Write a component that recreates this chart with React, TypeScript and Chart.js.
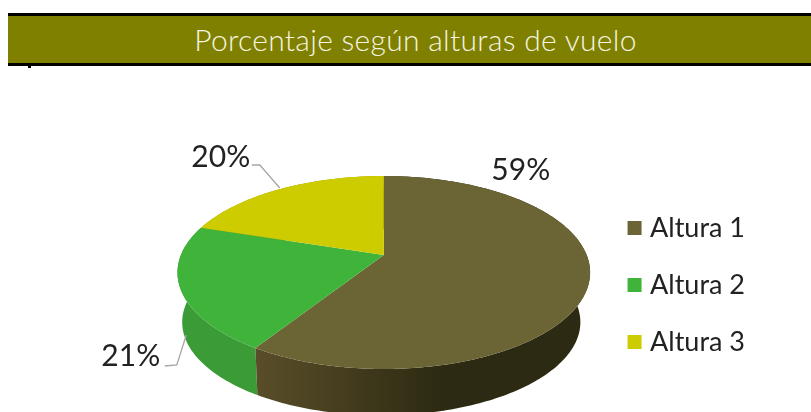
import { useEffect, useRef } from "react";
import { Chart, registerables } from "chart.js";

Chart.register(...registerables);

const categories = ["Altura 1", "Altura 2", "Altura 3"];
const seriesValues = [59, 21, 20];
const topColors = ["#6b6535", "#40b33a", "#cccc00"];
const sideColorsNear = ["#5a4e29", "#3b9c37", "#a0a000"];
const sideColorsFar = ["#2c2a12", "#389634", "#a0a000"];
const titleText = "Porcentaje según alturas de vuelo";

const FONT = "Lato, 'Open Sans', sans-serif";
const RX_K = 1.663;
const RY_K = 0.765;
const K = 0.1814;
const DEPTH_K = 0.4123;
const BOTTOM_SCALE = 0.965;
const BOTTOM_SHIFT_X = -2.5;
const CENTER_SHIFT = -30;
const labelOffsets = [
  { dx: 137, dy: -85, leader: null },
  { dx: -253, dy: 101, leader: [[-219, 111], [-207, 110]] },
  { dx: -163, dy: -98, leader: [[-132, -90], [-124, -90]] },
];
const leaderEnds: [number, number][] = [[0, 0], [-197.5, 80], [-104, -67]];

const perspectivePie = {
  id: "perspectivePie",
  beforeDatasetDraw(chart: any) {
    const { ctx } = chart;
    const meta = chart.getDatasetMeta(0);
    const arcs = meta.data;
    const first = arcs[0];
    const cx = first.x;
    const cy = first.y + CENTER_SHIFT;
    const R = first.outerRadius;
    const rx = R * RX_K;
    const ry = R * RY_K;
    const depth = R * DEPTH_K;

    // angle is Chart.js' (0 = 3 o'clock, clockwise); disk point projected in perspective
    const project = (a: number, bottom: boolean) => {
      const u = Math.cos(a);
      const v = Math.sin(a);
      const w = 1 - K * v;
      const s = bottom ? BOTTOM_SCALE : 1;
      return {
        x: cx + (bottom ? BOTTOM_SHIFT_X : 0) + (rx * u * s) / w,
        y: cy + (bottom ? depth : 0) + (ry * v * s) / w,
      };
    };
    const samples = (a0: number, a1: number) => {
      const n = Math.max(8, Math.ceil(Math.abs(a1 - a0) * 60));
      const out: number[] = [];
      for (let i = 0; i <= n; i++) out.push(a0 + ((a1 - a0) * i) / n);
      return out;
    };

    // side walls
    const order = [2, 1, 0];
    order.forEach((i) => {
      const arc = arcs[i];
      const pts = samples(arc.startAngle, arc.endAngle);
      ctx.beginPath();
      pts.forEach((a, j) => {
        const p = project(a, false);
        if (j === 0) ctx.moveTo(p.x, p.y);
        else ctx.lineTo(p.x, p.y);
      });
      pts
        .slice()
        .reverse()
        .forEach((a) => {
          const p = project(a, true);
          ctx.lineTo(p.x, p.y);
        });
      ctx.closePath();
      const g = ctx.createLinearGradient(cx - 130, 0, cx + 60, 0);
      g.addColorStop(0, sideColorsNear[i]);
      g.addColorStop(1, sideColorsFar[i]);
      ctx.fillStyle = g;
      ctx.fill();
    });

    // top faces
    arcs.forEach((arc: any, i: number) => {
      ctx.beginPath();
      ctx.moveTo(cx, cy);
      samples(arc.startAngle, arc.endAngle).forEach((a) => {
        const p = project(a, false);
        ctx.lineTo(p.x, p.y);
      });
      ctx.closePath();
      ctx.fillStyle = topColors[i];
      ctx.fill();
    });

    // leaders and value labels
    ctx.textAlign = "center";
    ctx.textBaseline = "middle";
    arcs.forEach((arc: any, i: number) => {
      const lay = labelOffsets[i];
      if (lay.leader) {
        ctx.beginPath();
        ctx.moveTo(cx + lay.leader[0][0], cy + lay.leader[0][1]);
        ctx.lineTo(cx + lay.leader[1][0], cy + lay.leader[1][1]);
        ctx.lineTo(cx + leaderEnds[i][0], cy + leaderEnds[i][1]);
        ctx.strokeStyle = "#a6a6a6";
        ctx.lineWidth = 1.3;
        ctx.stroke();
      }
      ctx.fillStyle = "#222222";
      ctx.font = `400 30px ${FONT}`;
      ctx.fillText(`${seriesValues[i]}%`, cx + lay.dx, cy + lay.dy);
    });
    return false;
  },
};

export default function App() {
  const ref = useRef<HTMLCanvasElement>(null);
  useEffect(() => {
    const chart = new Chart(ref.current!, {
      type: "pie",
      data: {
        labels: categories,
        datasets: [
          {
            data: seriesValues,
            backgroundColor: topColors,
            borderColor: topColors,
            borderWidth: 10,
          },
        ],
      },
      options: {
        responsive: false,
        animation: false,
        layout: { padding: { top: 158, left: 165, right: 56, bottom: 0 } },
        plugins: {
          tooltip: { enabled: false },
          legend: {
            position: "right",
            labels: {
              boxWidth: 4,
              boxHeight: 4,
              padding: 30,
              color: "#222222",
              font: { family: FONT, size: 27, weight: "400" },
            },
          },
        },
      },
      plugins: [perspectivePie],
    } as any);
    return () => chart.destroy();
  }, []);
  return (
    <div style={{ position: "fixed", left: 0, top: 0, width: 811, height: 412, overflow: "hidden", background: "#fff" }}>
      <canvas ref={ref} width={811} height={412} style={{ position: "absolute", left: 0, top: 0, display: "block" }} />
      <div
        style={{
          position: "absolute",
          left: 8,
          top: 13,
          width: 803,
          height: 47,
          borderTop: "3px solid #000",
          borderBottom: "3px solid #000",
          background: "#808000",
          color: "#f4f4e0",
          font: `300 30px ${FONT}`,
          letterSpacing: "0.3px",
          lineHeight: "47px",
          textAlign: "center",
          paddingLeft: 6,
          boxSizing: "content-box",
        }}
      >
        {titleText}
      </div>
      <div style={{ position: "absolute", left: 28, top: 66, width: 3, height: 2, background: "#000" }} />
    </div>
  );
}
